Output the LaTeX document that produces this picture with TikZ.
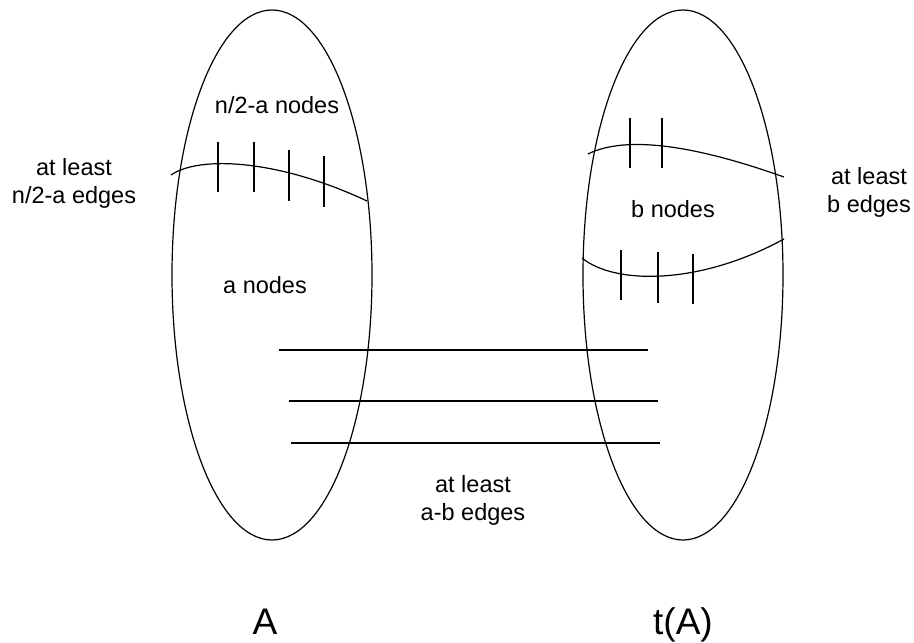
\documentclass[tikz,border=0pt]{standalone}
\usepackage{fontspec}
\setmainfont{Liberation Sans}
\begin{document}
\begin{tikzpicture}[x=1pt,y=-1pt,
  ln/.style={line width=1.2pt,black},
  lbl/.style={font=\fontsize{23.5}{28}\selectfont,anchor=base,align=center,inner sep=0pt},
  big/.style={font=\fontsize{37}{44}\selectfont,anchor=base,inner sep=0pt}]
\useasboundingbox (0,0) rectangle (914,643);
% sets
\draw[ln] (272,275) ellipse [x radius=100, y radius=265];
\draw[ln] (683,275) ellipse [x radius=100, y radius=265];
% left division curve and ticks
\draw[ln] (171,175) .. controls (200,155) and (280,160) .. (367,201);
\foreach \x/\a/\b in {218/142/192,254/142/192,289/150/201,324/156/207}
  \draw[ln] (\x,\a) -- (\x,\b);
% right division curves and ticks
\draw[ln] (588,154) .. controls (620,138) and (680,140) .. (784,177);
\foreach \x in {630,662}
  \draw[ln] (\x,118) -- (\x,168);
\draw[ln] (582,258) .. controls (615,285) and (700,285) .. (784,239);
\foreach \x/\a/\b in {621/250/300,658/252/303,693/254/304}
  \draw[ln] (\x,\a) -- (\x,\b);
% cross edges
\draw[ln] (279,350) -- (648,350);
\draw[ln] (289,401) -- (658,401);
\draw[ln] (291,443) -- (660,443);
% labels
\node[lbl] (ltop) at (277,113) {n/2-a nodes};
\node[lbl] (lbot) at (265,293) {a nodes};
\node[lbl] (rmid) at (673,217) {b nodes};
\node[lbl] (ledge) at (74,203) {at least\\n/2-a edges};
\node[lbl] (redge) at (869,212) {at least\\b edges};
\node[lbl] (medge) at (473,520) {at least\\a-b edges};
\node[big] (A) at (265,634) {A};
\node[big] (tA) at (683,634) {t(A)};
\end{tikzpicture}
\end{document}
